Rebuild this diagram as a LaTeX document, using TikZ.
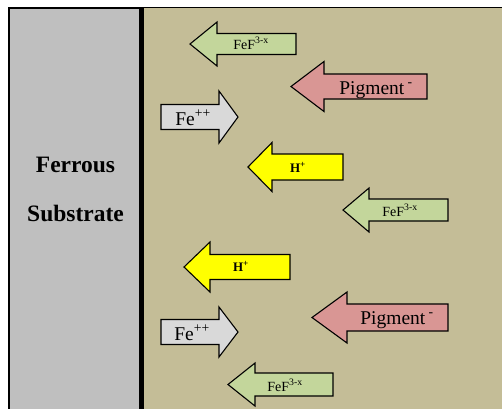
\documentclass[tikz,border=0pt]{standalone}
\usepackage{fontspec}
\setmainfont{Liberation Serif}
\definecolor{tanbath}{HTML}{C4BD97}
\definecolor{metalgray}{HTML}{BFBFBF}
\definecolor{fefgreen}{HTML}{C3D69B}
\definecolor{pigpink}{HTML}{D99694}
\definecolor{hyellow}{HTML}{FFFF00}
\definecolor{fegray}{HTML}{D9D9D9}

\begin{document}
\begin{tikzpicture}[x=1pt,y=-1pt,
  flux/.style={draw=black,line width=1.1pt,line join=miter},
  ion/.style={anchor=base,inner sep=0pt},
  smallion/.style={ion,font=\fontsize{14}{16}\selectfont},
  bigion/.style={ion,font=\fontsize{19.5}{21}\selectfont},
  hion/.style={ion,font=\fontsize{13}{15}\selectfont\bfseries}]
  \useasboundingbox (0,0) rectangle (502,408);
  % bath and substrate
  \fill[tanbath] (143,8) rectangle (505,412);
  \draw[line width=1.2pt] (143,7.6) -- (503,7.6);
  \draw[fill=metalgray,line width=2pt] (9,8) rectangle (140,414);
  \draw[line width=5pt] (141.5,7) -- (141.5,414);
  \node[font=\fontsize{23.5}{49}\selectfont\bfseries,align=center] (sub) at (75.5,189) {Ferrous\\Substrate};
  % arrows: tip x/tip y/head back/tail/head half/shaft half/colour
  \foreach \tx/\ty/\bx/\ex/\hh/\sh/\col in {
    190/44/217/296/22/10.5/fefgreen,
    291/86.5/324/427/25/12.5/pigpink,
    238/117/219/161/26/12.5/fegray,
    248/167/272/343/24.5/13/hyellow,
    343/210/369/448/22/11/fefgreen,
    184/267/210/290/25/12.5/hyellow,
    312/317.5/347/448/25.5/13.5/pigpink,
    238/332/219/161/25/12.5/fegray,
    228/384.5/255/333/21.5/11.5/fefgreen}
    \draw[flux,fill=\col] (\tx,\ty) -- (\bx,\ty-\hh) -- (\bx,\ty-\sh) -- (\ex,\ty-\sh)
      -- (\ex,\ty+\sh) -- (\bx,\ty+\sh) -- (\bx,\ty+\hh) -- cycle;
  % labels
  \node[smallion] (fefA) at (251,49) {FeF\textsuperscript{3-x}};
  \node[bigion] (pigA) at (376,94) {Pigment\,\textsuperscript{-}};
  \node[bigion] (feA) at (193,125) {Fe\textsuperscript{++}};
  \node[hion] (hA) at (298,172) {H\textsuperscript{+}};
  \node[smallion] (fefB) at (400,216) {FeF\textsuperscript{3-x}};
  \node[hion] (hB) at (241,271) {H\textsuperscript{+}};
  \node[bigion] (pigB) at (397,324) {Pigment\,\textsuperscript{-}};
  \node[bigion] (feB) at (192,340) {Fe\textsuperscript{++}};
  \node[smallion] (fefC) at (285,391) {FeF\textsuperscript{3-x}};
\end{tikzpicture}
\end{document}
